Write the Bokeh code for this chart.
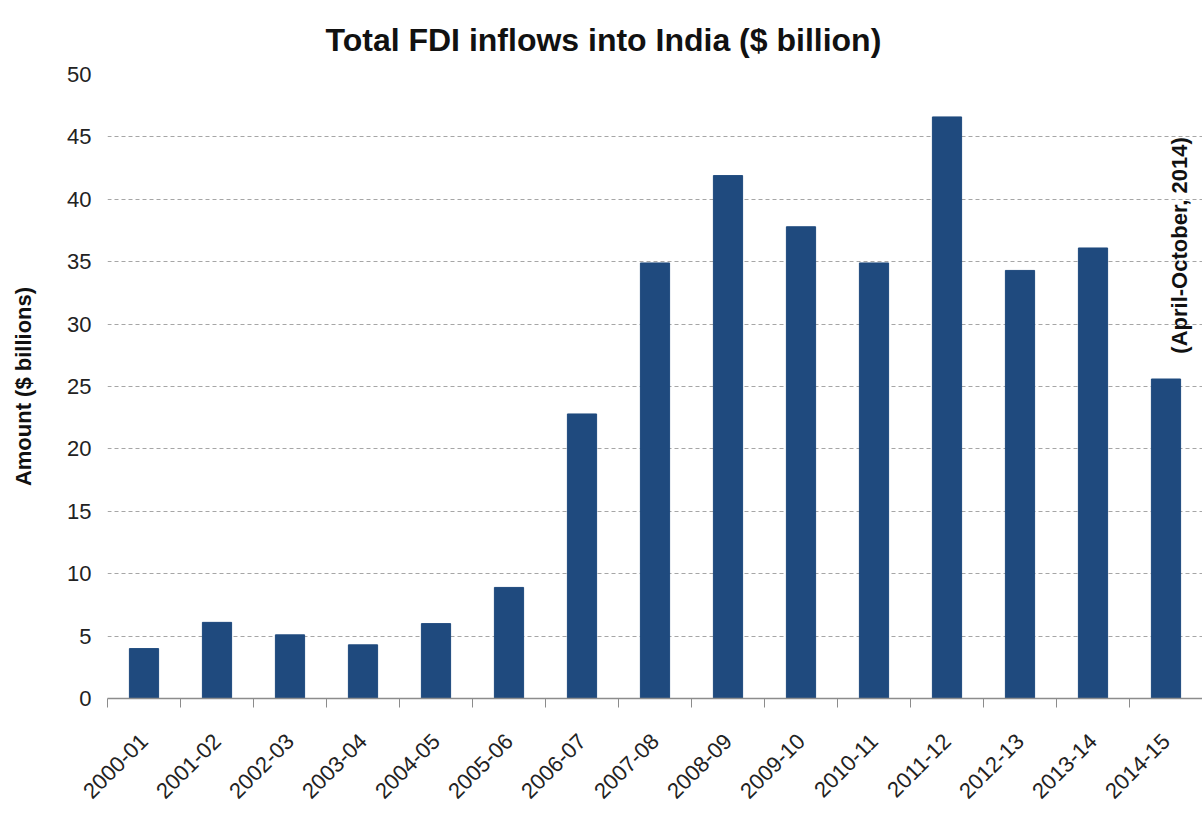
import math
from bokeh.plotting import figure
from bokeh.models import Range1d, FixedTicker, Label
from bokeh.embed import file_html
from bokeh.resources import INLINE

years = ["2000-01", "2001-02", "2002-03", "2003-04", "2004-05", "2005-06", "2006-07",
         "2007-08", "2008-09", "2009-10", "2010-11", "2011-12", "2012-13", "2013-14", "2014-15"]
values = [4.0, 6.1, 5.1, 4.3, 6.0, 8.9, 22.8, 34.9, 41.9, 37.8, 34.9, 46.6, 34.3, 36.1, 25.6]
y_ticks = [0, 5, 10, 15, 20, 25, 30, 35, 40, 45, 50]
idx = list(range(len(years)))

FONT = "Liberation Sans"

p = figure(width=1202, height=816, output_backend="svg", toolbar_location=None,
           x_range=Range1d(-0.5, len(years) - 0.5), y_range=Range1d(0, 50),
           min_border_left=107, min_border_right=0, min_border_top=74, min_border_bottom=118)
p.outline_line_color = None
p.background_fill_color = "white"

p.title.text = "Total FDI inflows into India ($ billion)"
p.title.text_font = FONT
p.title.text_font_size = "32px"
p.title.text_font_style = "bold"
p.title.text_color = "#111111"
p.title.align = "left"
p.title.offset = 218
p.title.standoff = 34

p.vbar(x=idx, top=values, width=0.4, color="#1F4A7E")

# y axis
p.yaxis.ticker = y_ticks
p.yaxis.axis_line_color = None
p.yaxis.major_tick_line_color = None
p.yaxis.minor_tick_line_color = None
p.yaxis.major_label_text_font = FONT
p.yaxis.major_label_text_font_size = "22px"
p.yaxis.major_label_text_color = "#222222"
p.yaxis.major_label_standoff = 10
p.yaxis.axis_label = "Amount ($ billions)"
p.yaxis.axis_label_text_font = FONT
p.yaxis.axis_label_text_font_size = "22px"
p.yaxis.axis_label_text_font_style = "bold"
p.yaxis.axis_label_text_color = "#111111"
p.yaxis.axis_label_standoff = 28

# x axis
p.xaxis.ticker = FixedTicker(ticks=idx, minor_ticks=[i - 0.5 for i in range(len(years) + 1)])
p.xaxis.major_label_overrides = {i: y for i, y in enumerate(years)}
p.xaxis.major_label_orientation = math.pi / 4
p.xaxis.major_label_text_font = FONT
p.xaxis.major_label_text_font_size = "22px"
p.xaxis.major_label_text_color = "#222222"
p.xaxis.major_tick_line_color = None
p.xaxis.minor_tick_in = 0
p.xaxis.minor_tick_out = 9
p.xaxis.minor_tick_line_color = "#8c8c8c"
p.xaxis.axis_line_color = "#8c8c8c"
p.xaxis.axis_line_width = 1.5
p.xaxis.major_label_standoff = 30

p.xgrid.visible = False
p.ygrid.grid_line_color = "#a6a6a6"
p.ygrid.grid_line_dash = "4 3"

note = Label(x=len(years) - 1, y=36.3, x_offset=13, text="(April-October, 2014)",
             angle=math.pi / 2, text_align="center", text_baseline="middle",
             text_font=FONT, text_font_style="bold", text_font_size="22px",
             text_color="#111111")
p.add_layout(note)

open("out.html", "w").write(file_html(p, INLINE))
